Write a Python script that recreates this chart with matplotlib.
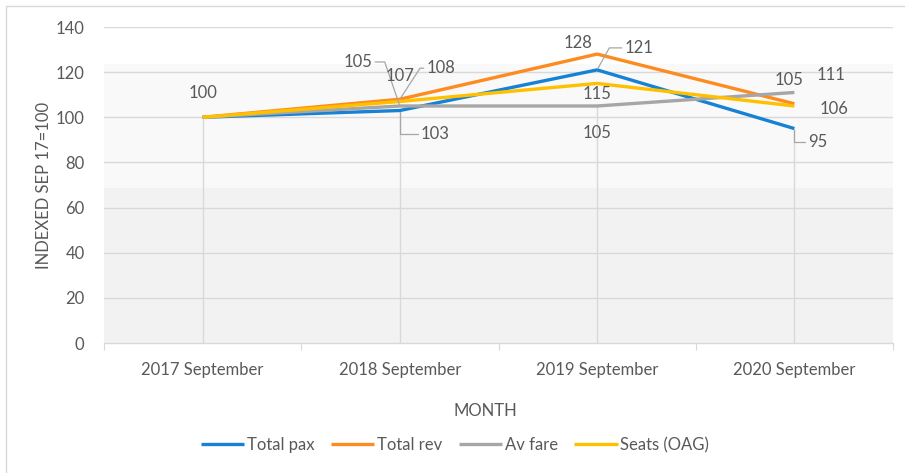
import matplotlib
matplotlib.use('Agg')
import matplotlib.pyplot as plt
from matplotlib.patches import Rectangle

months = ['2017 September', '2018 September', '2019 September', '2020 September']
total_pax = [100, 103, 121, 95]
total_rev = [100, 108, 128, 106]
av_fare = [100, 105, 105, 111]
seats_oag = [100, 107, 115, 105]

series = [
    ('Total pax', total_pax, '#1782d4'),
    ('Total rev', total_rev, '#fd8b1f'),
    ('Av fare', av_fare, '#a6a6a6'),
    ('Seats (OAG)', seats_oag, '#ffc000'),
]

# label offsets in pixels (dx, dy) and leader style (angleB of elbow, or None)
label_offsets = {
    'Total pax': [None, (35, -23, 90), (42, 22, 61), (23, -13, 90)],
    'Total rev': [None, (41, 31, 57), (-19, 11, None), (40, -5, None)],
    'Av fare': [None, (-42, 44, 109), (0, -27, None), (37, 17, None)],
    'Seats (OAG)': [(0, 24, None), (0, 25, None), (0, -11, None), (-5, 26, None)],
}

TXT = '#595959'
GRID = '#d9d9d9'
plt.rcParams['font.family'] = ['Lato', 'DejaVu Sans']

fig = plt.figure(figsize=(9.05, 4.73), dpi=100)
ax = fig.add_axes([104 / 905, 1 - 343 / 473, 789 / 905, 316 / 473])
fig.patches.append(Rectangle((6 / 905, -0.1), 1.2, (473 - 6) / 473 + 0.1,
                             transform=fig.transFigure, fill=False,
                             edgecolor='#d9d9d9', lw=1))

x = list(range(len(months)))
ax.set_xlim(-0.5, 3.5)
ax.set_ylim(0, 140)

# plot area shading
ax.axhspan(0, 68.7, color='#f2f2f2', zorder=0, lw=0)
ax.axhspan(68.7, 123.6, color='#f9f9f9', zorder=0, lw=0)

for v in range(20, 141, 20):
    ax.axhline(v, color=GRID, lw=1, zorder=1)

# drop lines
for i in x:
    low = min(s[1][i] for s in series)
    ax.plot([i, i], [0, low], color=GRID, lw=1, zorder=1)

for name, vals, c in series:
    ax.plot(x, vals, color=c, lw=2.4, label=name, zorder=3, solid_capstyle='butt')

px = 0.72
for name, vals, c in series:
    for i, off in enumerate(label_offsets[name]):
        if off is None:
            continue
        dx, dy, angle = off
        kw = {}
        if angle is not None:
            kw['arrowprops'] = dict(
                arrowstyle='-', color='#a6a6a6', lw=0.9, shrinkA=0, shrinkB=1,
                relpos=(1, 0.5) if dx < 0 else (0, 0.5),
                connectionstyle=f'angle,angleA=0,angleB={angle},rad=0')
        ax.annotate(str(vals[i]), xy=(i, vals[i]), xytext=(dx * px, dy * px),
                    textcoords='offset points', ha='center', va='center',
                    fontsize=12, color=TXT, zorder=4, **kw)

for side in ['left', 'right', 'top']:
    ax.spines[side].set_visible(False)
ax.spines['bottom'].set_color(GRID)
ax.spines['bottom'].set_linewidth(1)

ax.set_xticks([-0.5, 0.5, 1.5, 2.5, 3.5], minor=False)
ax.set_xticklabels([])
ax.tick_params(axis='x', which='major', length=5, color=GRID)
ax.set_xticks(x, minor=True)
ax.set_xticklabels(months, minor=True)
ax.tick_params(axis='x', which='minor', length=0, pad=14, labelsize=12, labelcolor=TXT)

ax.set_yticks(range(0, 141, 20))
ax.tick_params(axis='y', length=0, pad=14, labelsize=12, labelcolor=TXT)

ax.set_xlabel('MONTH', fontsize=12, color=TXT)
ax.xaxis.set_label_coords((485 - 104) / 789, (343 - 403) / 316)
ax.set_ylabel('INDEXED SEP 17=100', fontsize=12, color=TXT)
ax.yaxis.set_label_coords((52 - 104) / 789, 0.5)

fig.legend(loc='center', bbox_to_anchor=(455 / 905, 1 - 445 / 473), ncol=4,
           frameon=False, fontsize=12, labelcolor=TXT, handlelength=2.6,
           handletextpad=0.15, columnspacing=1.0)

fig.savefig('out.png', dpi=100)
